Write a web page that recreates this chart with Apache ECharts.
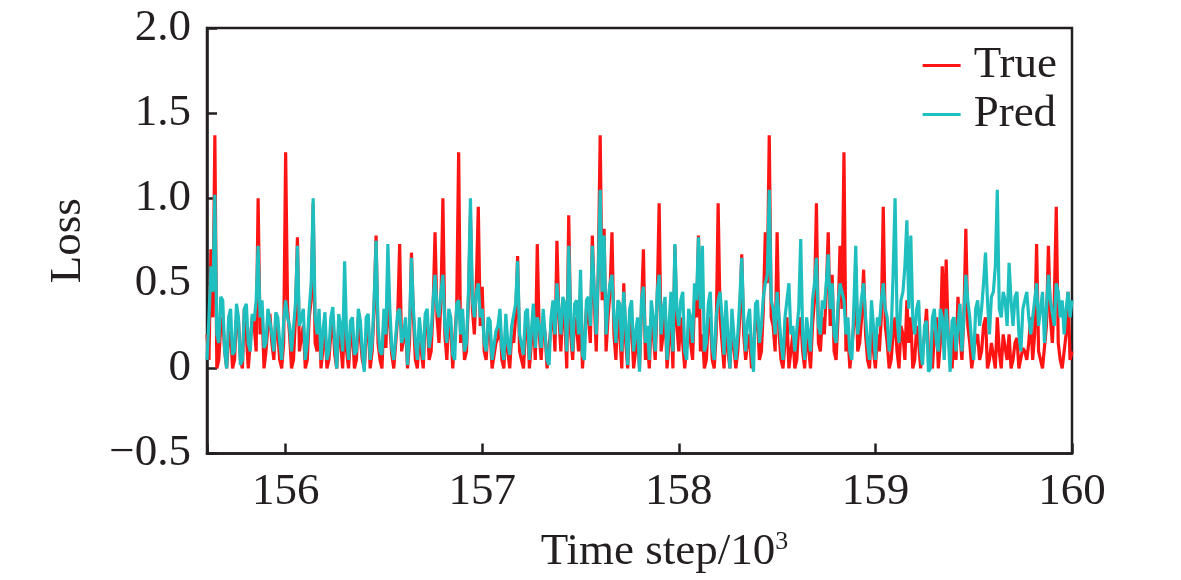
<!DOCTYPE html>
<html>
<head>
<meta charset="utf-8">
<script src="https://cdn.jsdelivr.net/npm/echarts@6/dist/echarts.min.js"></script>
<style>
  html, body { margin: 0; padding: 0; background: #fff; }
  #main { width: 1181px; height: 580px; }
</style>
</head>
<body>
<div id="main"></div>
<script>
// time axis starts at 155.6 (x10^3), one sample every 0.01
var xStart = 155.6;
var xStep = 0.01;

var trueLoss = [
  0.20, 0.05, 0.70, 0.30, 1.37, 0.00, 0.05, 0.25, 0.30, 0.10, 0.00, 0.18, 0.22, 0.00, 0.05, 0.30, 0.28, 0.05, 0.00, 0.35,
  0.20, 0.00, 0.00, 0.30, 0.25, 0.10, 1.00, 0.20, 0.35, 0.00, 0.10, 0.25, 0.32, 0.15, 0.05, 0.28, 0.20, 0.05, 0.00, 0.15,
  1.27, 0.35, 0.20, 0.00, 0.05, 0.30, 0.77, 0.10, 0.18, 0.25, 0.00, 0.05, 0.30, 0.40, 0.97, 0.15, 0.10, 0.30, 0.00, 0.12,
  0.25, 0.00, 0.05, 0.20, 0.30, 0.08, 0.00, 0.25, 0.15, 0.00, 0.30, 0.10, 0.00, 0.18, 0.22, 0.00, 0.05, 0.30, 0.18, 0.05,
  0.00, 0.20, 0.28, 0.00, 0.10, 0.35, 0.78, 0.15, 0.05, 0.00, 0.30, 0.12, 0.50, 0.25, 0.08, 0.00, 0.00, 0.30, 0.73, 0.10,
  0.10, 0.25, 0.00, 0.15, 0.68, 0.30, 0.05, 0.00, 0.20, 0.10, 0.00, 0.28, 0.30, 0.05, 0.10, 0.35, 0.80, 0.30, 0.15, 0.40,
  1.00, 0.20, 0.05, 0.30, 0.25, 0.00, 0.00, 0.35, 1.27, 0.15, 0.30, 0.05, 0.10, 0.40, 0.90, 0.35, 0.20, 0.50, 0.95, 0.25,
  0.48, 0.10, 0.05, 0.25, 0.22, 0.00, 0.00, 0.15, 0.18, 0.30, 0.05, 0.00, 0.25, 0.10, 0.00, 0.20, 0.15, 0.30, 0.66, 0.10,
  0.10, 0.00, 0.22, 0.30, 0.00, 0.15, 0.30, 0.05, 0.73, 0.20, 0.05, 0.28, 0.20, 0.00, 0.00, 0.25, 0.35, 0.10, 0.75, 0.30,
  0.10, 0.35, 0.30, 0.00, 0.90, 0.20, 0.05, 0.30, 0.25, 0.10, 0.40, 0.00, 0.00, 0.35, 0.30, 0.15, 0.78, 0.40, 0.10, 0.55,
  1.37, 0.40, 0.82, 0.10, 0.30, 0.45, 0.80, 0.20, 0.05, 0.35, 0.20, 0.00, 0.50, 0.15, 0.00, 0.30, 0.25, 0.00, 0.10, 0.20,
  0.00, 0.35, 0.70, 0.05, 0.15, 0.00, 0.30, 0.20, 0.05, 0.40, 0.97, 0.10, 0.20, 0.35, 0.00, 0.15, 0.35, 0.00, 0.72, 0.25,
  0.10, 0.30, 0.30, 0.00, 0.00, 0.25, 0.15, 0.05, 0.40, 0.30, 0.78, 0.10, 0.20, 0.00, 0.05, 0.28, 0.30, 0.05, 0.00, 0.20,
  0.97, 0.30, 0.15, 0.00, 0.30, 0.10, 0.00, 0.25, 0.25, 0.00, 0.10, 0.30, 0.67, 0.20, 0.05, 0.15, 0.20, 0.00, 0.00, 0.28,
  0.30, 0.05, 0.10, 0.35, 0.80, 0.50, 1.37, 0.30, 0.25, 0.10, 0.80, 0.20, 0.05, 0.00, 0.15, 0.30, 0.00, 0.10, 0.20, 0.00,
  0.05, 0.25, 0.30, 0.10, 0.00, 0.20, 0.12, 0.00, 0.25, 0.40, 0.97, 0.15, 0.10, 0.30, 0.20, 0.45, 0.80, 0.25, 0.55, 0.10,
  0.05, 0.30, 0.72, 0.35, 1.27, 0.10, 0.20, 0.00, 0.00, 0.25, 0.60, 0.10, 0.15, 0.30, 0.58, 0.20, 0.05, 0.00, 0.25, 0.10,
  0.00, 0.20, 0.10, 0.30, 0.95, 0.25, 0.15, 0.00, 0.05, 0.20, 0.30, 0.10, 0.00, 0.25, 0.20, 0.05, 0.40, 0.15, 0.30, 0.00,
  0.05, 0.25, 0.15, 0.00, 0.00, 0.20, 0.35, 0.10, 0.10, 0.00, 0.20, 0.30, 0.00, 0.15, 0.60, 0.25, 0.64, 0.20, 0.10, 0.00,
  0.20, 0.05, 0.42, 0.20, 0.05, 0.30, 0.82, 0.25, 0.15, 0.00, 0.00, 0.18, 0.20, 0.05, 0.10, 0.25, 0.30, 0.00, 0.05, 0.15,
  0.15, 0.00, 0.30, 0.10, 0.00, 0.20, 0.12, 0.05, 0.20, 0.00, 0.05, 0.15, 0.18, 0.00, 0.00, 0.12, 0.10, 0.05, 0.15, 0.30,
  0.05, 0.20, 0.73, 0.10, 0.10, 0.00, 0.00, 0.25, 0.72, 0.30, 0.15, 0.40, 0.95, 0.15, 0.05, 0.00, 0.10, 0.20, 0.45, 0.05,
  0.10
];

var predLoss = [
  0.05, 0.30, 0.60, 0.45, 1.02, 0.20, 0.15, 0.42, 0.40, 0.10, 0.00, 0.30, 0.35, 0.08, 0.10, 0.38, 0.30, 0.02, 0.05, 0.35,
  0.38, 0.15, 0.10, 0.32, 0.28, 0.40, 0.72, 0.30, 0.40, 0.12, 0.15, 0.35, 0.36, 0.20, 0.10, 0.33, 0.30, 0.15, 0.05, 0.28,
  0.40, 0.30, 0.25, 0.10, 0.10, 0.38, 0.72, 0.25, 0.30, 0.35, 0.05, 0.15, 0.35, 0.50, 1.00, 0.30, 0.20, 0.35, 0.05, 0.22,
  0.33, 0.05, 0.10, 0.30, 0.36, 0.15, 0.00, 0.32, 0.25, 0.10, 0.63, 0.20, 0.05, 0.28, 0.30, 0.08, 0.10, 0.35, 0.28, 0.10,
  -0.02, 0.30, 0.32, 0.05, 0.15, 0.40, 0.75, 0.25, 0.10, 0.08, 0.35, 0.20, 0.73, 0.35, 0.12, 0.05, 0.05, 0.33, 0.35, 0.15,
  0.20, 0.30, 0.02, 0.25, 0.65, 0.35, 0.15, 0.05, 0.30, 0.18, 0.05, 0.32, 0.35, 0.12, 0.20, 0.40, 0.55, 0.35, 0.30, 0.45,
  0.55, 0.25, 0.15, 0.35, 0.30, 0.08, 0.05, 0.38, 0.40, 0.20, 0.35, 0.10, 0.15, 0.45, 1.00, 0.40, 0.30, 0.45, 0.50, 0.30,
  0.35, 0.15, 0.10, 0.30, 0.28, 0.05, 0.05, 0.22, 0.25, 0.35, 0.12, 0.05, 0.32, 0.15, 0.08, 0.25, 0.25, 0.38, 0.63, 0.20,
  0.20, 0.08, 0.33, 0.35, 0.05, 0.22, 0.38, 0.12, 0.30, 0.25, 0.12, 0.35, 0.35, 0.05, 0.02, 0.30, 0.40, 0.20, 0.50, 0.35,
  0.20, 0.42, 0.38, 0.10, 0.72, 0.30, 0.10, 0.38, 0.40, 0.20, 0.58, 0.08, 0.05, 0.40, 0.42, 0.25, 0.72, 0.45, 0.20, 0.55,
  1.05, 0.45, 0.78, 0.20, 0.40, 0.50, 0.55, 0.30, 0.15, 0.40, 0.38, 0.10, 0.45, 0.25, 0.02, 0.35, 0.40, 0.10, 0.20, 0.30,
  -0.02, 0.40, 0.48, 0.15, 0.25, 0.05, 0.40, 0.30, 0.10, 0.45, 0.55, 0.20, 0.35, 0.42, 0.05, 0.25, 0.45, 0.10, 0.73, 0.35,
  0.25, 0.40, 0.45, 0.10, 0.05, 0.35, 0.30, 0.15, 0.50, 0.40, 0.77, 0.35, 0.72, 0.10, 0.15, 0.38, 0.45, 0.12, 0.05, 0.30,
  0.40, 0.45, 0.30, 0.08, 0.40, 0.20, 0.00, 0.35, 0.35, 0.05, 0.20, 0.40, 0.65, 0.30, 0.10, 0.28, 0.35, 0.10, -0.02, 0.38,
  0.40, 0.15, 0.25, 0.42, 0.50, 0.55, 1.05, 0.40, 0.35, 0.20, 0.45, 0.30, 0.15, 0.05, 0.30, 0.40, 0.50, 0.20, 0.25, 0.10,
  0.10, 0.35, 0.76, 0.20, 0.05, 0.30, 0.30, 0.10, 0.40, 0.50, 0.65, 0.25, 0.20, 0.40, 0.35, 0.50, 0.67, 0.35, 0.50, 0.20,
  0.15, 0.38, 0.50, 0.45, 0.40, 0.20, 0.30, 0.10, 0.05, 0.35, 0.72, 0.20, 0.30, 0.42, 0.50, 0.30, 0.15, 0.05, 0.40, 0.25,
  0.05, 0.30, 0.25, 0.40, 0.50, 0.35, 0.30, 0.10, 0.20, 0.55, 1.00, 0.30, 0.15, 0.40, 0.45, 0.60, 0.87, 0.35, 0.78, 0.30,
  0.20, 0.35, 0.40, 0.10, 0.02, 0.25, 0.28, -0.02, 0.00, 0.30, 0.35, 0.15, 0.10, 0.35, 0.30, 0.05, 0.35, 0.20, -0.02, 0.28,
  0.30, 0.10, 0.25, 0.38, 0.10, 0.30, 0.55, 0.40, 0.30, 0.15, 0.05, 0.35, 0.40, 0.25, 0.35, 0.50, 0.68, 0.40, 0.20, 0.42,
  0.45, 0.60, 1.05, 0.35, 0.30, 0.45, 0.40, 0.25, 0.62, 0.40, 0.25, 0.42, 0.45, 0.20, 0.10, 0.35, 0.40, 0.45, 0.30, 0.20,
  0.20, 0.40, 0.50, 0.25, 0.35, 0.45, 0.15, 0.35, 0.55, 0.40, 0.40, 0.25, 0.50, 0.45, 0.30, 0.40, 0.20, 0.35, 0.45, 0.30,
  0.40
];

var seriesNames = ['True', 'Pred'];
var seriesColors = ['#ff1414', '#1fbfbf'];

function toPoints(values) {
  return values.map(function (v, i) {
    return [+(xStart + i * xStep).toFixed(2), v];
  });
}

var textColor = '#231f20';
var fontFamily = '"Liberation Serif", "Times New Roman", serif';
var fontSize = 45;

var myChart = echarts.init(document.getElementById('main'));

var option = {
  animation: false,
  textStyle: { fontFamily: fontFamily, color: textColor },
  grid: {
    left: 207,
    right: 109,
    top: 28,
    bottom: 125,
    show: true,
    borderColor: textColor,
    borderWidth: 2.5
  },
  legend: {
    orient: 'vertical',
    right: 119,
    top: 38,
    icon: 'rect',
    itemWidth: 38,
    itemHeight: 3,
    itemGap: 4,
    textStyle: { fontFamily: fontFamily, fontSize: fontSize, color: textColor, padding: [0, 0, 0, 8] },
    data: seriesNames
  },
  xAxis: {
    type: 'value',
    min: 155.6,
    max: 160,
    minInterval: 1,
    maxInterval: 1,
    name: 'Time step/10{sup|3}',
    nameLocation: 'middle',
    nameGap: 76,
    nameTextStyle: {
      fontFamily: fontFamily,
      fontSize: fontSize,
      color: textColor,
      padding: [0, 0, 0, 50],
      rich: {
        sup: { fontFamily: fontFamily, fontSize: 26, color: textColor, verticalAlign: 'top', padding: [0, 0, 20, 0] }
      }
    },
    splitLine: { show: false },
    axisLine: { show: true, onZero: false, lineStyle: { color: textColor, width: 2.5 } },
    axisTick: { show: true, inside: true, length: 10, lineStyle: { color: textColor, width: 2.5 } },
    axisLabel: {
      fontFamily: fontFamily,
      fontSize: fontSize,
      color: textColor,
      margin: 16,
      formatter: function (v) { return Math.abs(v - Math.round(v)) < 1e-6 ? String(Math.round(v)) : ''; }
    }
  },
  yAxis: {
    type: 'value',
    min: -0.5,
    max: 2,
    interval: 0.5,
    name: 'Loss',
    nameLocation: 'middle',
    nameGap: 116,
    nameTextStyle: { fontFamily: fontFamily, fontSize: fontSize, color: textColor },
    splitLine: { show: false },
    axisLine: { show: true, lineStyle: { color: textColor, width: 2.5 } },
    axisTick: { show: true, inside: true, length: 10, lineStyle: { color: textColor, width: 2.5 } },
    axisLabel: {
      fontFamily: fontFamily,
      fontSize: fontSize,
      color: textColor,
      margin: 16,
      formatter: function (v) {
        if (v === 0) return '0';
        if (v < 0) return '\u2212' + Math.abs(v).toFixed(1);
        return v.toFixed(1);
      }
    }
  },
  series: [
    {
      name: seriesNames[0],
      type: 'line',
      showSymbol: false,
      symbol: 'none',
      color: seriesColors[0],
      lineStyle: { width: 3.2, color: seriesColors[0] },
      data: toPoints(trueLoss)
    },
    {
      name: seriesNames[1],
      type: 'line',
      showSymbol: false,
      symbol: 'none',
      color: seriesColors[1],
      lineStyle: { width: 3.2, color: seriesColors[1] },
      data: toPoints(predLoss)
    }
  ]
};

myChart.setOption(option);
</script>
</body>
</html>
